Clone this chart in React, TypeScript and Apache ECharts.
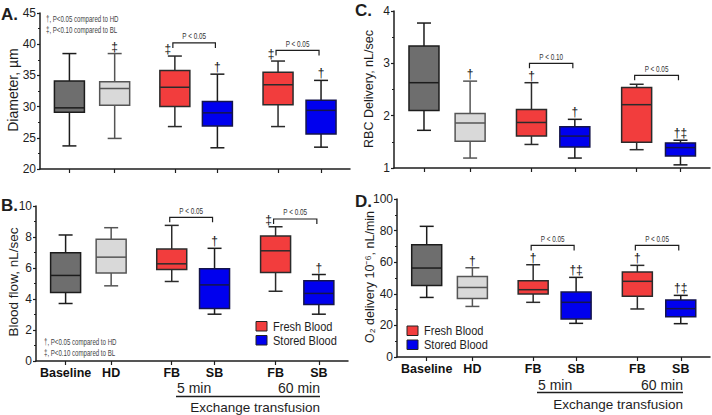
import React, { useEffect, useRef } from 'react';
import * as echarts from 'echarts';

// ---------------- DATA ----------------
const categories = ['Baseline', 'HD', 'FB', 'SB', 'FB', 'SB'];

// each entry: [min, q1, median, q3, max]
const diameter = [
  [23.7, 29.1, 29.8, 34.1, 38.5],
  [24.9, 30.2, 32.9, 34.0, 38.5],
  [26.8, 30.0, 33.1, 35.8, 38.1],
  [23.4, 26.9, 29.0, 30.8, 35.2],
  [26.8, 30.3, 33.5, 35.5, 37.3],
  [23.5, 25.6, 29.4, 31.0, 34.2],
];
const bloodFlow = [
  [3.71, 4.42, 5.52, 6.98, 8.13],
  [4.85, 5.67, 6.7, 7.85, 8.6],
  [5.13, 5.9, 6.27, 7.22, 8.75],
  [3.02, 3.39, 4.91, 5.95, 7.27],
  [4.5, 5.71, 7.11, 8.06, 8.66],
  [3.02, 3.65, 4.36, 5.17, 5.58],
];
const rbcDelivery = [
  [1.72, 2.1, 2.63, 3.33, 3.77],
  [1.19, 1.51, 1.86, 2.04, 2.66],
  [1.45, 1.61, 1.87, 2.12, 2.63],
  [1.19, 1.4, 1.61, 1.79, 1.93],
  [1.35, 1.49, 2.21, 2.54, 2.6],
  [1.06, 1.23, 1.39, 1.48, 1.53],
];
const o2Delivery = [
  [37.7, 45.3, 56.3, 71.1, 82.7],
  [32.0, 37.1, 44.0, 51.0, 56.5],
  [34.6, 39.9, 42.6, 48.3, 58.4],
  [21.3, 24.1, 34.6, 41.1, 50.4],
  [30.4, 38.4, 47.9, 53.8, 58.0],
  [21.1, 25.5, 30.6, 36.1, 39.0],
];

const symbolsA = ['', '‡', '‡', '†', '‡', '†'];
const symbolsB = ['', '', '', '†', '‡', '†'];
const symbolsC = ['', '†', '†', '†', '', '†‡'];
const symbolsD = ['', '†', '†', '†‡', '†', '†‡'];

// [fromCategoryIndex, toCategoryIndex, yValue]
const bracketsA = [[2, 3, 40.2], [4, 5, 39.0]];
const bracketsB = [[2, 3, 9.27], [4, 5, 9.16]];
const bracketsC = [[2, 3, 3.0], [4, 5, 2.77]];
const bracketsD = [[2, 3, 70.6], [4, 5, 70.6]];
const bracketLabelsA = ['P < 0.05', 'P < 0.05'];
const bracketLabelsB = ['P < 0.05', 'P < 0.05'];
const bracketLabelsC = ['P < 0.10', 'P < 0.05'];
const bracketLabelsD = ['P < 0.05', 'P < 0.05'];

const yTitles = ['Diameter, µm', 'Blood flow, nL/sec', 'RBC Delivery, nL/sec', 'O₂ delivery 10⁻⁶, nL/min'];
const panelLetters = ['A.', 'B.', 'C.', 'D.'];
const legendNames = ['Fresh Blood', 'Stored Blood'];
const noteLines = ['†, P<0.05 compared to HD', '‡, P<0.10 compared to BL'];
const timeLabels = ['5 min', '60 min'];
const groupLabel = 'Exchange transfusion';

// ---------------- LAYOUT / STYLE ----------------
const SLOT = [0, 1, 2.33, 3.27, 4.61, 5.56];
const FONT = "'Liberation Sans', Arial, sans-serif";
const INK = '#1e1e1e';
const RED = '#f23d3d';
const BLUE = '#0000ee';

const BOX_STYLE = [
  { fill: '#6e6e6e', stroke: '#1c1c1c', whisker: '#1c1c1c' },
  { fill: '#d9d9d9', stroke: '#555555', whisker: '#555555' },
  { fill: RED, stroke: '#2b2b2b', whisker: '#2b2b2b' },
  { fill: BLUE, stroke: '#15154a', whisker: '#1c1c1c' },
  { fill: RED, stroke: '#2b2b2b', whisker: '#2b2b2b' },
  { fill: BLUE, stroke: '#15154a', whisker: '#1c1c1c' },
];

const panels = [
  { grid: { left: 40, top: 13, width: 310, height: 156 }, min: 20, max: 45, interval: 5, data: diameter, sym: symbolsA, br: bracketsA, brl: bracketLabelsA, labels: false },
  { grid: { left: 36, top: 206, width: 312, height: 155 }, min: 0, max: 10, interval: 2, data: bloodFlow, sym: symbolsB, br: bracketsB, brl: bracketLabelsB, labels: true },
  { grid: { left: 394, top: 11, width: 316, height: 157 }, min: 1, max: 4, interval: 1, data: rbcDelivery, sym: symbolsC, br: bracketsC, brl: bracketLabelsC, labels: false },
  { grid: { left: 397, top: 199, width: 313, height: 158 }, min: 0, max: 100, interval: 20, data: o2Delivery, sym: symbolsD, br: bracketsD, brl: bracketLabelsD, labels: true },
];

function boxRender(params: any, api: any) {
  const x = api.value(0);
  const st = BOX_STYLE[params.dataIndex];
  const lo = api.coord([x, api.value(1)]);
  const q1 = api.coord([x, api.value(2)]);
  const md = api.coord([x, api.value(3)]);
  const q3 = api.coord([x, api.value(4)]);
  const hi = api.coord([x, api.value(5)]);
  const cx = lo[0];
  const hw = 15;
  const cw = 7;
  const ls = { stroke: st.whisker, lineWidth: 1.5 };
  return {
    type: 'group',
    children: [
      { type: 'line', shape: { x1: cx, y1: hi[1], x2: cx, y2: q3[1] }, style: ls },
      { type: 'line', shape: { x1: cx, y1: q1[1], x2: cx, y2: lo[1] }, style: ls },
      { type: 'line', shape: { x1: cx - cw, y1: hi[1], x2: cx + cw, y2: hi[1] }, style: ls },
      { type: 'line', shape: { x1: cx - cw, y1: lo[1], x2: cx + cw, y2: lo[1] }, style: ls },
      { type: 'rect', shape: { x: cx - hw, y: q3[1], width: 2 * hw, height: q1[1] - q3[1] }, style: { fill: st.fill, stroke: st.stroke, lineWidth: 1.5 } },
      { type: 'line', shape: { x1: cx - hw, y1: md[1], x2: cx + hw, y2: md[1] }, style: { stroke: st.stroke, lineWidth: 1.5 } },
    ],
  };
}

function txt(x: number, y: number, text: string, font: string, align = 'left', vAlign = 'middle', fill = INK, extra: any = {}) {
  return {
    type: 'text', x, y, silent: true, ...extra,
    style: { text, font, fill, align, verticalAlign: vAlign, textAlign: align, textVerticalAlign: vAlign },
  };
}

export default function App() {
  const ref = useRef<HTMLDivElement>(null);
  useEffect(() => {
    if (!ref.current) return;
    const chart = echarts.init(ref.current, null, { renderer: 'svg' });

    const grids: any[] = [];
    const xAxes: any[] = [];
    const yAxes: any[] = [];
    const series: any[] = [];

    panels.forEach((p, i) => {
      grids.push({ ...p.grid, containLabel: false });
      xAxes.push({
        type: 'value', gridIndex: i, min: -0.65, max: 6.2,
        axisLine: { show: true, onZero: false, lineStyle: { color: INK, width: 1.5 } },
        axisTick: { show: true, customValues: SLOT, length: 4, lineStyle: { color: INK, width: 1.2 } },
        axisLabel: {
          show: p.labels, customValues: SLOT, margin: 5,
          formatter: (v: number) => {
            const k = SLOT.findIndex((s) => Math.abs(s - v) < 1e-6);
            return k >= 0 ? categories[k] : '';
          },
          fontFamily: FONT, fontWeight: 'bold', fontSize: 12.5, color: '#111',
        },
        splitLine: { show: false },
      });
      yAxes.push({
        type: 'value', gridIndex: i, min: p.min, max: p.max, interval: p.interval,
        axisLine: { show: true, onZero: false, lineStyle: { color: INK, width: 1.5 } },
        axisTick: { show: true, length: 3, lineStyle: { color: INK, width: 1.2 } },
        minorTick: { show: true, splitNumber: 2, length: 2, lineStyle: { color: INK, width: 1 } },
        axisLabel: { fontFamily: FONT, fontSize: 12, color: INK, margin: 4 },
        splitLine: { show: false },
      });
      series.push({
        type: 'custom', xAxisIndex: i, yAxisIndex: i, silent: true, clip: false,
        itemStyle: { color: INK },
        data: p.data.map((v, k) => [SLOT[k], ...v]),
        encode: { x: 0, y: [1, 2, 3, 4, 5] },
        renderItem: boxRender,
      });
      const symItems = p.sym
        .map((s, k) => ({ s, k }))
        .filter((o) => o.s !== '');
      series.push({
        type: 'custom', xAxisIndex: i, yAxisIndex: i, silent: true, clip: false,
        itemStyle: { color: INK },
        data: symItems.map((o) => [SLOT[o.k], p.data[o.k][4]]),
        encode: { x: 0, y: 1 },
        renderItem: (params: any, api: any) => {
          const o = symItems[params.dataIndex];
          const pt = api.coord([api.value(0), api.value(1)]);
          const isFB = o.k === 2 || o.k === 4;
          const dx = isFB && o.s === '‡' ? -7 : 0;
          return {
            type: 'group',
            children: [
              {
                type: 'text', x: pt[0] + dx, y: pt[1] - 1,
                style: { text: o.s, font: `12px ${FONT}`, fill: '#111', align: 'center', verticalAlign: 'bottom', textAlign: 'center', textVerticalAlign: 'bottom' },
              },
            ],
          };
        },
      });
      series.push({
        type: 'custom', xAxisIndex: i, yAxisIndex: i, silent: true, clip: false,
        itemStyle: { color: INK },
        data: p.br.map((b) => [SLOT[b[0]], b[2], SLOT[b[1]]]),
        encode: { x: [0, 2], y: 1 },
        renderItem: (params: any, api: any) => {
          const a = api.coord([api.value(0), api.value(1)]);
          const b = api.coord([api.value(2), api.value(1)]);
          const x1 = a[0] - 2, x2 = b[0] - 2, y = a[1];
          return {
            type: 'group',
            children: [
              { type: 'polyline', shape: { points: [[x1, y + 5], [x1, y], [x2, y], [x2, y + 5]] }, style: { stroke: INK, lineWidth: 1.2, fill: 'none' } },
              { type: 'text', x: (x1 + x2) / 2, y: y - 2, scaleX: 0.75, style: { text: p.brl[params.dataIndex], font: `8.5px ${FONT}`, fill: '#333', align: 'center', verticalAlign: 'bottom', textAlign: 'center', textVerticalAlign: 'bottom' } },
            ],
          };
        },
      });
    });

    const graphics: any[] = [];
    // panel letters
    graphics.push(txt(1, 14, panelLetters[0], `bold 17px ${FONT}`));
    graphics.push(txt(1, 205, panelLetters[1], `bold 17px ${FONT}`));
    graphics.push(txt(355, 10, panelLetters[2], `bold 17px ${FONT}`));
    graphics.push(txt(355, 201, panelLetters[3], `bold 17px ${FONT}`));
    // y titles
    const yt = [[13, 90, 14], [13, 282, 13.5], [369, 89, 12.5], [370, 277, 12.5]];
    yt.forEach((t, i) => {
      graphics.push(txt(t[0], t[1], yTitles[i], `${t[2]}px ${FONT}`, 'center', 'middle', INK, { rotation: Math.PI / 2 }));
    });
    // notes
    const notePos = [[46, 19.5], [46, 30.5], [44, 342.5], [44, 353.5]];
    notePos.forEach((n, k) => {
      graphics.push(txt(n[0], n[1], noteLines[k % 2], `8.5px ${FONT}`, 'left', 'middle', '#444', { scaleX: 0.72 }));
    });
    // legends
    const legs = [[256, 321.5], [407, 326]];
    legs.forEach((l) => {
      graphics.push({ type: 'rect', silent: true, shape: { x: l[0], y: l[1], width: 11, height: 9.5 }, style: { fill: RED, stroke: '#222', lineWidth: 1 } });
      graphics.push({ type: 'rect', silent: true, shape: { x: l[0], y: l[1] + 14, width: 11, height: 9.5 }, style: { fill: BLUE, stroke: '#222', lineWidth: 1 } });
      graphics.push(txt(l[0] + 17, l[1] + 5, legendNames[0], `13px ${FONT}`, 'left', 'middle', INK, { scaleX: 0.85 }));
      graphics.push(txt(l[0] + 17, l[1] + 19, legendNames[1], `13px ${FONT}`, 'left', 'middle', INK, { scaleX: 0.85 }));
    });
    // exchange transfusion labels
    const ex = [
      { x1: 176, x2: 320, yt: 388, yl: 396.5, yg: 407.5 },
      { x1: 537, x2: 683, yt: 384.5, yl: 392.5, yg: 404 },
    ];
    ex.forEach((e) => {
      graphics.push(txt(e.x1 + 1, e.yt, timeLabels[0], `14px ${FONT}`, 'left'));
      graphics.push(txt(e.x2, e.yt, timeLabels[1], `14px ${FONT}`, 'right'));
      graphics.push({ type: 'line', silent: true, shape: { x1: e.x1, y1: e.yl, x2: e.x2, y2: e.yl }, style: { stroke: INK, lineWidth: 1.3 } });
      graphics.push(txt(e.x2, e.yg, groupLabel, `13.5px ${FONT}`, 'right'));
    });

    chart.setOption({
      animation: false,
      backgroundColor: '#ffffff',
      grid: grids,
      xAxis: xAxes,
      yAxis: yAxes,
      series,
      graphic: graphics,
    });
    return () => chart.dispose();
  }, []);
  return <div ref={ref} style={{ position: 'fixed', left: 0, top: 0, width: 712, height: 415 }} />;
}
